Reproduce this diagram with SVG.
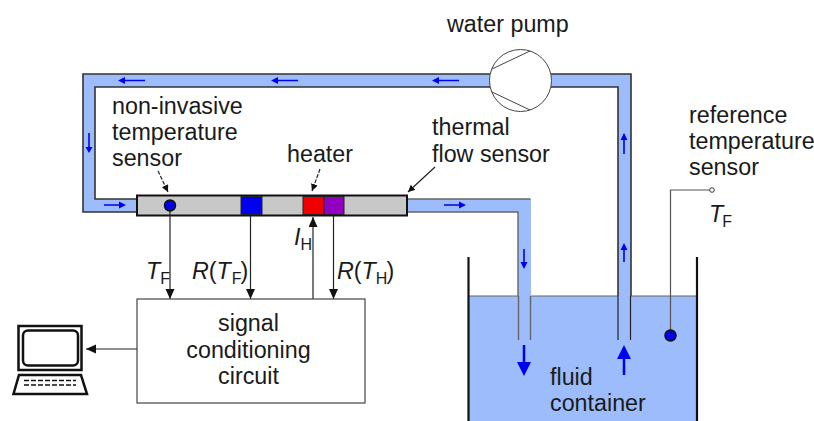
<svg xmlns="http://www.w3.org/2000/svg" width="814" height="421" viewBox="0 0 814 421">
<style>
text{font-family:"Liberation Sans",Arial,sans-serif;font-size:23.300px;fill:#1a1a1a}
.i{font-style:italic}
.s{font-size:16px}
.w{fill:#9dbcfb;stroke:none}
.p{fill:none;stroke:#333;stroke-width:1.6}
.g{fill:none;stroke:#666;stroke-width:1.4}
.k{fill:none;stroke:#222;stroke-width:1.2}
.f{fill:none;stroke:#0000f0;stroke-width:1.6}
.h{fill:#0000f0;stroke:none}
</style>
<defs>
<marker id="a" markerUnits="userSpaceOnUse" markerWidth="12" markerHeight="12" refX="10" refY="4.5" orient="auto"><path d="M0 0L10 4.5L0 9z" fill="#111"/></marker>
<marker id="b" markerUnits="userSpaceOnUse" markerWidth="8" markerHeight="8" refX="7" refY="3.5" orient="auto"><path d="M0 0L7 3.5L0 7z" fill="#111"/></marker>
</defs>
<g id="fluid-container">
<rect class="w" x="469" y="296" width="228" height="125"/>
<path d="M469 296H697" stroke="#666" stroke-width="1.2" fill="none"/>
<path d="M468.500 257V421M697 257V421" stroke="#111" stroke-width="2.200" fill="none"/>
</g>
<g id="pipe">
<path class="w" d="M83 74H631V340H618V87H95V199H136V212H83z"/>
<path class="w" d="M407 199H531V340H518V212H407z"/>
<path class="p" d="M136 212H83V74H631V296M136 199H95V87H618V296"/>
<path class="k" d="M618 296V340M630.500 296V340" stroke-width="1.500"/>
<path class="g" d="M407 199H530.500M407 212H518V296"/>
<path class="g" d="M518.500 296V340M530.500 296V340"/>
</g>
<g id="flow-arrows">
<path class="f" d="M145 80.500H125M298 80.500H278M459 80.500H439M89 133V150M104 205H122M444 205H462M524 249V266M624 154V134M624 262V246"/>
<path class="h" d="M125 77L118 80.500L125 84zM278 77L271 80.500L278 84zM439 77L432 80.500L439 84zM85.500 147L89 153L92.500 147zM119 201.500L126 205L119 208.500zM459 201.500L466 205L459 208.500zM520.500 262L524 269L527.500 262zM620.500 140L624 133L627.500 140zM620.500 250L624 243L627.500 250z"/>
<path d="M524 345V368M624 375V352" stroke="#0000f0" stroke-width="2.500" fill="none"/>
<path class="h" d="M517 362H531L524 376zM617 359H631L624 345z"/>
</g>
<g id="water-pump">
<circle cx="520.500" cy="80.500" r="31" fill="#fff" stroke="#444" stroke-width="1"/>
<path d="M492 69L530 51M492 92L530 110" stroke="#444" stroke-width="1" fill="none"/>
<text x="447" y="32">water pump</text>
</g>
<g id="thermal-flow-sensor">
<rect x="137" y="195.500" width="270" height="20" fill="#c8c8c8" stroke="#111" stroke-width="2"/>
<rect x="241" y="196.500" width="21" height="18" fill="#0000f0" stroke="#222"/>
<rect x="303" y="196.500" width="21" height="18" fill="#f00000" stroke="#222"/>
<rect x="324" y="196.500" width="20" height="18" fill="#9000c0" stroke="#222"/>
<circle cx="170" cy="205.500" r="5.500" fill="#0000f0" stroke="#111" stroke-width="1.500"/>
</g>
<g id="connectors">
<path class="k" d="M170 211V299" marker-end="url(#a)"/>
<path class="k" d="M250.500 215V299" marker-end="url(#a)"/>
<path class="k" d="M313 299V217" marker-end="url(#a)"/>
<path class="k" d="M333.500 215V299" marker-end="url(#a)"/>
<path class="k" d="M137 349H86" marker-end="url(#a)"/>
<path class="k" stroke-dasharray="4 1.500" d="M158 171L168 192" marker-end="url(#b)"/>
<path class="k" stroke-dasharray="4 1.500" d="M320 169L312 191" marker-end="url(#b)"/>
<path class="k" d="M435 167L408 192" marker-end="url(#b)"/>
<path d="M670.500 336V190H711" fill="none" stroke="#555" stroke-width="1.200"/>
</g>
<g id="reference-sensor">
<circle cx="712" cy="190" r="2.300" fill="#fff" stroke="#333" stroke-width="1"/>
<circle cx="670.500" cy="335.500" r="5.500" fill="#0000f0" stroke="#111" stroke-width="1.500"/>
<text x="689" y="123">reference</text>
<text x="689" y="149">temperature</text>
<text x="689" y="175">sensor</text>
<text x="709" y="222"><tspan class="i">T</tspan><tspan class="s" dx="-1" dy="5">F</tspan></text>
</g>
<g id="signal-conditioning-circuit">
<rect x="137" y="299" width="228" height="104" fill="#fff" stroke="#444" stroke-width="1.200"/>
<text x="248.500" y="331" text-anchor="middle">signal</text>
<text x="248.500" y="358" text-anchor="middle">conditioning</text>
<text x="248.500" y="384" text-anchor="middle">circuit</text>
</g>
<g id="computer">
<rect x="18.500" y="326" width="63" height="44" fill="#fff" stroke="#111" stroke-width="2.500"/>
<rect x="23" y="330.500" width="55" height="35" rx="5" fill="#fff" stroke="#111" stroke-width="2.500"/>
<path d="M19 375H81L87 394H13.500z" fill="#fff" stroke="#111" stroke-width="2.500"/>
<path d="M24 380.500H76M24 385H76" stroke="#111" stroke-width="1.500" stroke-dasharray="5 2" fill="none"/>
</g>
<g id="labels">
<text x="112" y="114">non-invasive</text>
<text x="112" y="140">temperature</text>
<text x="112" y="166">sensor</text>
<text x="287" y="162">heater</text>
<text x="432" y="135">thermal</text>
<text x="432" y="162">flow sensor</text>
<text x="146" y="279"><tspan class="i">T</tspan><tspan class="s" dy="5">F</tspan></text>
<text x="192" y="279"><tspan class="i">R</tspan>(<tspan class="i">T</tspan><tspan class="s" dx="1" dy="5">F</tspan><tspan dx="-1" dy="-5">)</tspan></text>
<text x="294" y="245"><tspan class="i">I</tspan><tspan class="s" dy="5">H</tspan></text>
<text x="337" y="279"><tspan class="i">R</tspan>(<tspan class="i">T</tspan><tspan class="s" dy="5">H</tspan><tspan dx="-1" dy="-5">)</tspan></text>
<text x="550" y="385">fluid</text>
<text x="550" y="411">container</text>
</g>
</svg>
